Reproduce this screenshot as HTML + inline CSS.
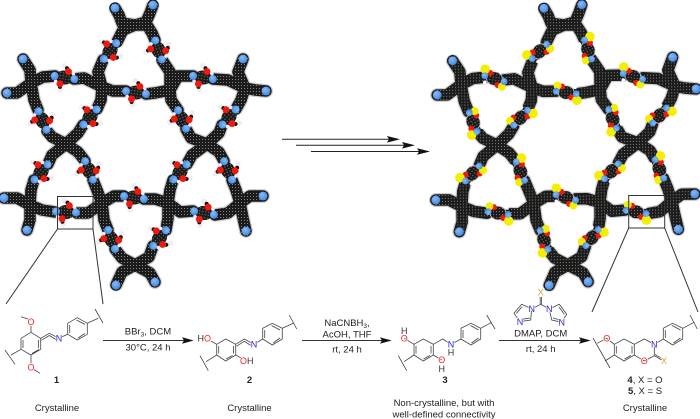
<!DOCTYPE html>
<html><head><meta charset="utf-8"><style>
html,body{margin:0;padding:0;background:#fff}
svg{display:block}
text{font-family:"Liberation Sans",sans-serif;font-size:9.5px;fill:#222;text-anchor:middle}
.b{fill:none;stroke:#444;stroke-width:.8}
.a{font-size:9px;paint-order:stroke;stroke:#fff;stroke-width:1.5px}
.r{fill:#ee2a2a}.n{fill:#2a2ad8}.x{fill:#c8a830}.k{fill:#333}
.bold{font-weight:bold}
</style></head><body>
<svg width="700" height="419" viewBox="0 0 700 419" xmlns="http://www.w3.org/2000/svg">
<defs>
<pattern id="dots" width="3" height="3" patternUnits="userSpaceOnUse"><rect width="3" height="3" fill="#1b1b1b"/><circle cx="1.5" cy="1.5" r=".5" fill="#a8a898"/></pattern>
<radialGradient id="blue" cx=".4" cy=".35" r=".7"><stop offset="0" stop-color="#86bcf8"/><stop offset="1" stop-color="#3f86e2"/></radialGradient>
<path id="net" fill="none" stroke-linejoin="round" stroke-linecap="round" d="
M135 25L122 23L119 15L115 8M135 25L146 22L150 13L153 5M135 25L123 30L117 42M135 25L147 25L152 33L155 40
M31 83L30 70L23 59M31 83L17 93L7 93M31 83L43 77L55 76M31 83L34 100L38 110
M102 87L84 78L74 79M102 87L98 72L103 60M102 87L113 91L126 91M102 87L101 100L97 109
M170 90L170 72L162 60M170 90L155 93L146 94M170 90L178 76L193 76M170 90L171 100L178 110
M245 88L228 80L213 79M245 88L238 72L243 59M245 88L255 90L266 91M245 88L241 100L236 109
M66 144L52 137L47 131M66 144L78 133L83 125M66 144L52 155L48 164M66 144L78 152L85 161
M207 144L191 138L186 129M207 144L219 133L222 125M207 144L192 155L187 164M207 144L219 152L224 161
M30 205L17 198L4 198M30 205L31 190L34 180M30 205L42 210L55 212M30 205L30 220L27 230
M102 203L97 190L93 180M102 203L114 196L124 196M102 203L88 213L77 213M102 203L104 220L108 230
M168 203L170 190L173 180M168 203L155 199L144 199M168 203L180 212L193 211M168 203L168 218L166 230
M240 203L228 213L215 215M240 203L236 190L232 180M240 203L250 196L263 196M240 203L243 218L246 231
M135 265L122 258L115 249M135 265L149 257L153 246M135 265L122 272L116 285M135 265L150 273L155 282"/>
<g id="tips" fill="url(#blue)">
<circle cx="115" cy="8" r="4.4"/><circle cx="153" cy="5" r="4.4"/><circle cx="23" cy="59" r="4.4"/><circle cx="7" cy="93" r="4.4"/><circle cx="243" cy="59" r="4.4"/><circle cx="266" cy="91" r="4.4"/><circle cx="4" cy="198" r="4.4"/><circle cx="27" cy="230" r="4.4"/><circle cx="263" cy="196" r="4.4"/><circle cx="246" cy="231" r="4.4"/><circle cx="116" cy="285" r="4.4"/><circle cx="155" cy="282" r="4.4"/>
</g>
<g id="L">
<circle cx="-2" cy="-11.5" r="2.8" fill="#eee"/><circle cx="-2" cy="12.5" r="2.8" fill="#eee"/>
<circle cx="1" cy="-9.5" r="2" fill="#111"/><circle cx="-3" cy="10" r="2" fill="#111"/>
<circle cx="-8" cy="5" r="2" fill="#eee"/><circle cx="8" cy="-5" r="2" fill="#eee"/>
<ellipse rx="8.5" ry="7" fill="url(#dots)"/>
<circle cx="3" cy="-6.5" r="3.5" fill="#ee1a10"/><circle cx="-3.5" cy="7" r="3.5" fill="#ee1a10"/>
<circle cx="-10" cy="0" r="4" fill="url(#blue)"/><circle cx="10" cy="0" r="4" fill="url(#blue)"/>
</g>
<g id="R">
<ellipse rx="8" ry="6.8" fill="url(#dots)" stroke="#ccc" stroke-width=".8"/>
<circle cx="-5" cy="-5" r="3" fill="#ee1a10"/><circle cx="4" cy="6" r="3" fill="#ee1a10"/>
<circle cx="-10.5" cy="-8" r="4.8" fill="#f4ee00"/><circle cx="8.5" cy="7" r="4" fill="#f4ee00"/>
<circle cx="-9" cy="5" r="1.8" fill="#fff"/>
<circle cx="-10" cy="-1.5" r="3.4" fill="url(#blue)"/><circle cx="10" cy="1.5" r="3.4" fill="url(#blue)"/>
</g>
<g id="body">
<use href="#net" stroke="#cfcfcf" stroke-width="14" stroke-dasharray="1.5 1.5"/>
<use href="#net" stroke="#1b1b1b" stroke-width="11.5"/>
<use href="#net" stroke="url(#dots)" stroke-width="10"/>
</g>
</defs>

<!-- left network -->
<use href="#body"/>
<use href="#L" transform="translate(110 51) rotate(128)"/>
<use href="#L" transform="translate(158.5 50) rotate(71)"/>
<use href="#L" transform="translate(64.5 77.5) rotate(9)"/>
<use href="#L" transform="translate(136 92.5) rotate(8)"/>
<use href="#L" transform="translate(203 77.5) rotate(9)"/>
<use href="#L" transform="translate(42.5 120.5) rotate(67)"/>
<use href="#L" transform="translate(90 117) rotate(131)"/>
<use href="#L" transform="translate(182 119.5) rotate(67)"/>
<use href="#L" transform="translate(229 117) rotate(131)"/>
<use href="#L" transform="translate(41 172) rotate(131)"/>
<use href="#L" transform="translate(89 170.5) rotate(67)"/>
<use href="#L" transform="translate(180 172) rotate(131)"/>
<use href="#L" transform="translate(228 170.5) rotate(67)"/>
<use href="#L" transform="translate(66 212) rotate(3)"/>
<use href="#L" transform="translate(134 197.5) rotate(8)"/>
<use href="#L" transform="translate(204 213) rotate(10)"/>
<use href="#L" transform="translate(111.5 239.5) rotate(70)"/>
<use href="#L" transform="translate(159.5 238) rotate(129)"/>
<use href="#tips"/>

<!-- right network -->
<g transform="translate(431 0) rotate(-.9 135 145)">
<use href="#body"/>
<use href="#R" transform="translate(110 51) rotate(308)"/>
<use href="#R" transform="translate(158.5 50) rotate(62)"/>
<use href="#R" transform="translate(64.5 77.5) rotate(9)"/>
<use href="#R" transform="translate(136 92.5) rotate(180)"/>
<use href="#R" transform="translate(203 77.5) rotate(9)"/>
<use href="#R" transform="translate(42.5 120.5) rotate(240)"/>
<use href="#R" transform="translate(90 117) rotate(125)"/>
<use href="#R" transform="translate(182 119.5) rotate(240)"/>
<use href="#R" transform="translate(229 117) rotate(125)"/>
<use href="#R" transform="translate(41 172) rotate(305)"/>
<use href="#R" transform="translate(89 170.5) rotate(58)"/>
<use href="#R" transform="translate(180 172) rotate(305)"/>
<use href="#R" transform="translate(228 170.5) rotate(58)"/>
<use href="#R" transform="translate(66 212) rotate(180)"/>
<use href="#R" transform="translate(134 197.5) rotate(8)"/>
<use href="#R" transform="translate(204 213) rotate(182)"/>
<use href="#R" transform="translate(111.5 239.5) rotate(240)"/>
<use href="#R" transform="translate(159.5 238) rotate(120)"/>
<use href="#tips"/>
</g>

<!-- zoom boxes and lines -->
<g fill="none" stroke="#333" stroke-width="1">
<rect x="57.5" y="196.5" width="35.5" height="32.5"/>
<path d="M57.5 229L6 304M93 229L103 304"/>
<rect x="628.7" y="195.5" width="36" height="32.5"/>
<path d="M628.7 228L592 312M664.7 228L698 312"/>
</g>

<!-- central arrows -->
<g stroke="#222" stroke-width="1"><path d="M282 139.3H392M296 145.3H407M311 151.5H422"/></g>
<g fill="#111">
<path d="M400 139.3L387 136L389 139.3L387 142.6Z"/>
<path d="M415 145.3L402 142L404 145.3L402 148.6Z"/>
<path d="M430 151.5L417 148.2L419 151.5L417 154.8Z"/>
</g>

<!-- reaction arrows -->
<g stroke="#333" stroke-width=".9"><path d="M103 340.5H186M302 340.5H384M499 340.5H583"/></g>
<g fill="#111">
<path d="M193.7 340.5L182 337.3L184 340.5L182 343.7Z"/>
<path d="M391.7 340.5L380 337.3L382 340.5L380 343.7Z"/>
<path d="M590.7 340.5L579 337.3L581 340.5L579 343.7Z"/>
</g>

<!-- structure 1 -->
<path class="b" d="M31 332.3L40.7 338.3V349.3L31 355L21 349.3V338.3ZM23 340V348M38.5 340V348M32 353.5L39 349.5
M31 332.3V325M31 320L21 316.7M31 355V364M33 369L40 373.3
M40.7 338.3L49.3 333.3L59 338.3M41.5 340.2L49.3 335.5L56 339.5M59 338.3L67.7 334.3
M67.7 334.3V323.3L77.3 317.7L87.3 323.3V334.3L77.3 340ZM69.7 325V333M76.5 320L85 324.5M85 333.5L78 338
M87.3 323.3L98.3 318.3M95 309L103 323M21 349.3L11 355M5 350L15 364.3"/>
<text class="a r" x="31" y="325">O</text><text class="a r" x="31" y="370.5">O</text><text class="a n" x="59" y="341.5">N</text>

<!-- structure 2 -->
<path class="b" d="M225.7 339L235.7 344.3V355L225.7 361L216.7 355V344.3ZM218.7 346V353.5M233.5 346V353.5M226 359L232.5 355.5
M216.7 344.3L210.7 341M235.7 355L241.7 358.3
M235.7 344.3L244.3 339L254 344.3M236.5 346.2L244.3 341.3L251 345.5M254 344.3L262.7 339
M262.7 339V328.3L272.3 323.3L282.3 328.3V339L272.3 345ZM264.7 330V338M271.5 325.5L280 330M280 338L273 343
M282.3 328.3L293.3 323.3M289.3 315L296.7 329M216.7 355L206 361.7M200 355.7L208.3 370.7"/>
<text class="a" x="204.3" y="341.5"><tspan fill="#333">H</tspan><tspan fill="#ee2a2a">O</tspan></text>
<text class="a" x="246.7" y="364"><tspan fill="#ee2a2a">O</tspan><tspan fill="#333">H</tspan></text>
<text class="a n" x="254" y="347.5">N</text>

<!-- structure 3 -->
<path class="b" d="M423.3 339L433.3 344.3V355L423.3 361L414 355V344.3ZM416 346V353.5M431 346V353.5M423.5 359L430 355.5
M414 344.3L404.3 338.3M433.3 355L441.7 360
M433.3 344.3L442.7 339L451 344.3M451 344.3L461 339
M461 339V328.3L471 323.3L480.7 328.3V339L471 345ZM463 330V338M470.5 325.5L478.5 330M478.5 338L471.5 343
M480.7 328.3L491.7 322.3M486.7 315L495 329M414 355L404 361.7M398.3 355.7L406.7 370.7"/>
<text class="a r" x="404.3" y="341.5">O</text><text class="a k" x="404.3" y="334">H</text>
<text class="a r" x="441.7" y="363">O</text><text class="a k" x="441.7" y="372">H</text>
<text class="a n" x="451" y="347.5">N</text><text class="a k" x="451" y="355.5">H</text>

<!-- imidazole reagent -->
<path class="b" d="M540.2 297V304.3M541.4 297V304.3M540.7 304.3L531.7 309M540.7 304.3L549.3 309
M531.7 309L521.7 304.3L514 313.3L520 321.7L530.7 320ZM522 306.8L516.3 313.5M530 318L522 319.3
M549.3 309L559.3 304.3L566.7 314.3L561.7 322.3L551.7 320ZM559 307L564.3 314.3M553 318L560 320"/>
<text class="a x" x="540.7" y="295.5">X</text><text class="a n" x="531.7" y="312">N</text><text class="a n" x="549.3" y="312">N</text><text class="a n" x="520" y="325">N</text><text class="a n" x="561.7" y="325.5">N</text>

<!-- structure 4/5 -->
<path class="b" d="M624 339L634.3 344.3V355L624 361L614.3 355V344.3ZM616.3 346V353.5M632 346V353.5M624.5 359L631 355.5
M614.3 344.3L606.7 338.3L597.3 343.3M614.3 355L605 361M593 338L610 368
M634.3 344.3L644.3 339L654.3 344.3V355.7L644.3 361L634.3 355M654.3 355.7L661.7 360M655 354.5L662.3 358.8
M654.3 344.3L663.3 339V328.3L672.7 323.3L682.7 328.3V339L672.7 345L663.3 339M665.3 330V338M672 325.5L680.5 330M680.5 338L673.5 343
M682.7 328.3L694 322.3M690 315L697.3 329"/>
<text class="a r" x="606.7" y="341.5">O</text><text class="a n" x="654.3" y="347.5">N</text><text class="a r" x="644.3" y="364.2">O</text><text class="a x" x="664" y="364">X</text>

<!-- labels -->
<text x="148" y="334.5">BBr<tspan font-size="6.5" dy="2">3</tspan><tspan dy="-2">, DCM</tspan></text>
<text x="148" y="350.5">30°C, 24 h</text>
<text x="347" y="326">NaCNBH<tspan font-size="6.5" dy="2">3</tspan><tspan dy="-2">,</tspan></text>
<text x="347" y="337.5">AcOH, THF</text>
<text x="347" y="352.5">rt, 24 h</text>
<text x="540.7" y="336.5">DMAP, DCM</text>
<text x="540.7" y="352">rt, 24 h</text>
<text class="bold" x="56.5" y="383">1</text>
<text class="bold" x="249.5" y="383">2</text>
<text class="bold" x="445" y="383">3</text>
<text x="645" y="383"><tspan font-weight="bold">4</tspan>, X = O</text>
<text x="645" y="394"><tspan font-weight="bold">5</tspan>, X = S</text>
<text x="57" y="411">Crystalline</text>
<text x="249.5" y="411">Crystalline</text>
<text x="444" y="406">Non-crystalline, but with</text>
<text x="444" y="417.5">well-defined connectivity</text>
<text x="645" y="411">Crystalline</text>
</svg>
</body></html>
